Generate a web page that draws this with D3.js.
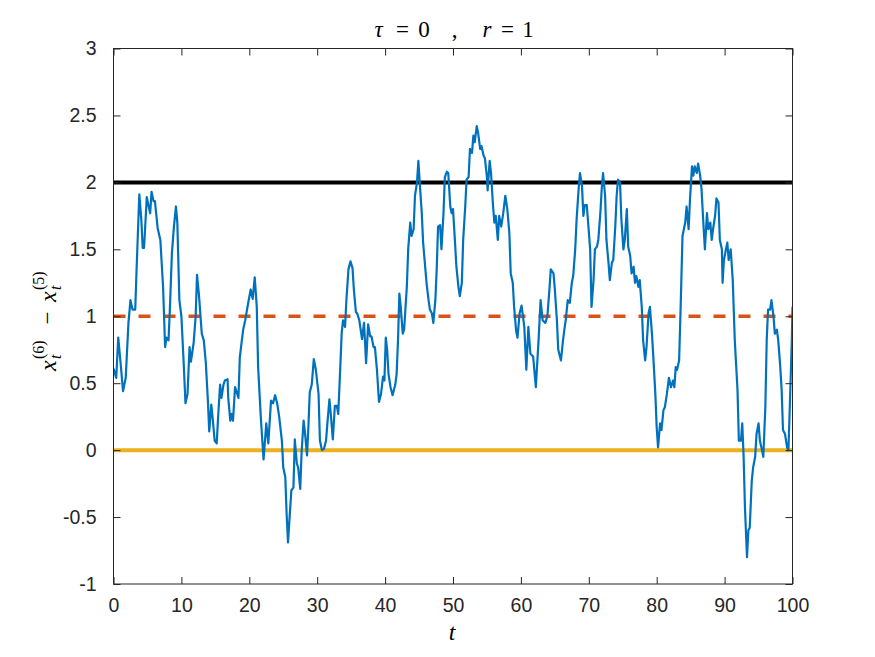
<!DOCTYPE html>
<html>
<head>
<meta charset="utf-8">
<script src="https://cdn.jsdelivr.net/npm/d3@7"></script>
<style>
  body { margin: 0; background: #fff; }
  svg { display: block; }
</style>
</head>
<body>
<svg id="chart" width="875" height="657"></svg>
<script>
// tiempos y diferencia x_t^(6) - x_t^(5)
const times = [0.0, 0.4, 0.7, 1.1, 1.4, 1.8, 2.2, 2.5, 2.8, 3.2, 3.4, 3.8, 4.1, 4.3, 4.5, 4.9, 5.1, 5.4, 5.6, 5.9, 6.1, 6.5, 6.9, 7.3, 7.6, 7.8, 8.1, 8.3, 8.6, 8.9, 9.2, 9.4, 9.7, 10.0, 10.3, 10.6, 10.9, 11.2, 11.4, 11.8, 12.1, 12.3, 12.6, 13.0, 13.3, 13.6, 13.9, 14.1, 14.4, 14.6, 14.9, 15.2, 15.4, 15.7, 15.9, 16.2, 16.4, 16.8, 16.9, 17.2, 17.4, 17.6, 17.9, 18.1, 18.4, 18.6, 18.9, 19.1, 19.4, 19.7,
  20.2, 20.5, 20.8, 21.1, 21.3, 21.7, 22.1, 22.5, 22.8, 23.2, 23.5, 23.8, 24.1, 24.4, 24.8, 25.0, 25.3, 25.5, 25.7, 26.0, 26.2, 26.5, 26.7, 27.0, 27.2, 27.5, 27.7, 28.0, 28.2, 28.5, 28.7, 28.9, 29.2, 29.5, 29.8, 30.2, 30.4, 30.7, 31.0, 31.3, 31.5, 31.8, 32.0, 32.3, 32.6, 32.9, 33.1, 33.4, 33.6, 33.8, 34.1, 34.3, 34.6, 34.9, 35.2, 35.4, 35.7, 35.9, 36.2, 36.6, 36.9, 37.2, 37.5, 37.8, 38.0, 38.3, 38.5, 38.8, 39.1, 39.4, 39.7, 39.9, 40.1, 40.3,
  40.5, 40.8, 41.1, 41.5, 41.7, 41.9, 42.1, 42.3, 42.6, 42.8, 43.2, 43.4, 43.7, 43.9, 44.2, 44.4, 44.7, 44.9, 45.1, 45.4, 45.6, 45.9, 46.1, 46.4, 46.6, 46.9, 47.1, 47.4, 47.6, 47.8, 48.1, 48.3, 48.6, 48.8, 49.1, 49.3, 49.6, 49.8, 50.0, 50.3, 50.5, 50.8, 51.0, 51.3, 51.5, 51.8, 52.0, 52.3, 52.5, 52.8, 53.0, 53.2, 53.5, 53.7, 54.0, 54.2, 54.5, 54.7, 55.0, 55.1, 55.4, 55.6, 55.9, 56.1, 56.3, 56.6, 56.8, 57.1, 57.4, 57.7, 58.0, 58.3, 58.5, 58.8, 59.0, 59.3, 59.5, 59.8,
  60.1, 60.5, 60.8, 61.1, 61.4, 61.8, 62.2, 62.6, 62.9, 63.2, 63.6, 63.9, 64.2, 64.4, 64.8, 65.0, 65.3, 65.5, 65.9, 66.2, 66.4, 66.6, 66.9, 67.2, 67.5, 67.7, 68.0, 68.2, 68.5, 68.7, 69.0, 69.2, 69.4, 69.7, 69.9, 70.2, 70.4, 70.7, 70.9, 71.2, 71.4, 71.7, 71.9, 72.1, 72.4, 72.6, 72.9, 73.1, 73.4, 73.6, 73.9, 74.1, 74.3, 74.6, 74.8, 75.1, 75.3, 75.6, 75.8, 76.1, 76.3, 76.6, 76.8, 77.0, 77.3, 77.5, 77.8, 78.0, 78.3, 78.5, 78.8, 79.0, 79.3, 79.5, 79.8,
  80.0, 80.2, 80.5, 80.7, 81.0, 81.2, 81.5, 81.8, 82.1, 82.4, 82.6, 82.8, 83.0, 83.3, 83.5, 83.8, 84.2, 84.4, 84.7, 84.9, 85.2, 85.4, 85.6, 85.9, 86.1, 86.4, 86.6, 86.9, 87.1, 87.4, 87.6, 87.9, 88.1, 88.3, 88.6, 88.8, 89.1, 89.3, 89.6, 89.7, 89.9, 90.2, 90.4, 90.6, 90.9, 91.2, 91.5, 91.9, 92.1, 92.4, 92.6, 92.8, 93.0, 93.3, 93.5, 93.7, 94.0, 94.2, 94.5, 94.7, 95.0, 95.2, 95.5, 95.7, 96.0, 96.2, 96.4, 96.7, 96.9, 97.2, 97.4, 97.7, 97.9, 98.2, 98.4, 98.6, 98.9, 99.2, 99.4, 99.6, 99.9, 100.0];
const diffs = [0.61, 0.54, 0.84, 0.62, 0.44, 0.54, 0.95, 1.12, 1.05, 1.05, 1.35, 1.91, 1.72, 1.51, 1.51, 1.89, 1.84, 1.77, 1.93, 1.86, 1.86, 1.66, 1.57, 1.22, 0.77, 0.84, 0.82, 1.05, 1.47, 1.67, 1.82, 1.70, 1.12, 1.00, 0.69, 0.35, 0.42, 0.77, 0.66, 0.80, 1.00, 1.31, 1.15, 0.87, 0.82, 0.65, 0.37, 0.14, 0.34, 0.24, 0.07, 0.05, 0.24, 0.49, 0.39, 0.49, 0.52, 0.53, 0.39, 0.22, 0.27, 0.22, 0.47, 0.44, 0.39, 0.69, 0.82, 0.90, 0.97, 1.06,
  1.20, 1.13, 1.29, 1.07, 0.62, 0.24, -0.07, 0.20, 0.05, 0.37, 0.35, 0.41, 0.35, 0.25, 0.07, -0.13, -0.20, -0.48, -0.69, -0.45, -0.30, -0.28, 0.08, -0.10, -0.13, -0.29, -0.02, 0.22, 0.13, -0.04, 0.17, 0.43, 0.49, 0.68, 0.60, 0.42, 0.07, 0.00, 0.01, 0.07, 0.20, 0.38, 0.27, 0.08, 0.33, 0.33, 0.27, 0.62, 0.87, 0.97, 0.92, 1.12, 1.35, 1.41, 1.36, 1.20, 1.03, 1.02, 0.97, 0.83, 0.95, 0.65, 0.94, 0.85, 0.85, 0.77, 0.77, 0.60, 0.36, 0.42, 0.55, 0.52, 0.84, 0.75,
  0.57, 0.47, 0.41, 0.49, 0.57, 0.82, 1.17, 1.07, 0.87, 0.90, 1.22, 1.50, 1.70, 1.60, 1.65, 1.90, 2.00, 2.16, 2.00, 1.77, 1.55, 1.37, 1.25, 1.12, 1.05, 1.02, 0.95, 1.12, 1.35, 1.67, 1.68, 1.50, 1.77, 2.04, 2.08, 2.07, 1.82, 1.77, 1.80, 1.55, 1.37, 1.22, 1.15, 1.25, 1.57, 1.82, 2.02, 2.04, 2.25, 2.22, 2.35, 2.30, 2.42, 2.37, 2.25, 2.27, 2.20, 2.18, 2.04, 1.94, 2.16, 2.07, 1.82, 1.70, 1.75, 1.57, 1.75, 1.67, 1.77, 1.90, 1.80, 1.62, 1.32, 1.25, 1.07, 0.89, 0.84, 1.02,
  1.08, 0.92, 0.60, 0.92, 0.72, 0.70, 0.47, 0.82, 1.12, 0.97, 0.95, 1.00, 1.20, 1.35, 1.32, 1.20, 0.97, 0.75, 0.67, 0.82, 0.90, 0.97, 1.12, 1.10, 1.25, 1.30, 1.50, 1.72, 1.95, 2.07, 1.97, 1.75, 1.83, 1.83, 1.70, 1.50, 1.07, 1.27, 1.50, 1.52, 1.57, 1.77, 1.95, 2.07, 1.90, 1.57, 1.40, 1.27, 1.40, 1.42, 1.67, 1.90, 2.02, 2.00, 1.72, 1.50, 1.57, 1.80, 1.52, 1.45, 1.32, 1.37, 1.25, 1.30, 1.22, 1.27, 1.07, 0.82, 0.67, 0.77, 1.02, 1.07, 0.87, 0.70, 0.42,
  0.17, 0.02, 0.20, 0.15, 0.30, 0.32, 0.42, 0.54, 0.47, 0.52, 0.47, 0.62, 0.60, 0.67, 1.02, 1.60, 1.70, 1.82, 1.65, 1.87, 2.12, 2.05, 2.12, 2.07, 2.14, 2.05, 1.95, 1.67, 1.50, 1.77, 1.65, 1.70, 1.57, 1.65, 1.75, 1.88, 1.85, 1.57, 1.50, 1.25, 1.42, 1.50, 1.55, 1.42, 1.50, 1.27, 0.82, 0.45, 0.07, 0.07, 0.20, -0.05, -0.43, -0.80, -0.60, -0.58, -0.23, -0.13, -0.05, 0.12, 0.20, 0.07, 0.00, -0.05, 0.32, 0.82, 1.05, 1.05, 1.12, 1.00, 0.87, 0.90, 0.82, 0.62, 0.45, 0.15, 0.12, 0.02, 0.00, 0.32, 0.82, 1.07];

// lineas horizontales de referencia
const refLevels = [2, 1, 0];
const refColors = ["#000000", "#D95319", "#EDB120"];
const refDashes = [null, "12,13", null];

// ticks
const xTicks = [0, 10, 20, 30, 40, 50, 60, 70, 80, 90, 100];
const yTicks = [-1, -0.5, 0, 0.5, 1, 1.5, 2, 2.5, 3];

const svg = d3.select("#chart");
const mLeft = 113.5, mRight = 792.5, mTop = 48.5, mBottom = 584;

const x = d3.scaleLinear().domain([0, 100]).range([mLeft, mRight]);
const y = d3.scaleLinear().domain([-1, 3]).range([mBottom, mTop]);

svg.append("defs").append("clipPath").attr("id", "clip")
   .append("rect")
   .attr("x", mLeft).attr("y", mTop)
   .attr("width", mRight - mLeft).attr("height", mBottom - mTop);

const plot = svg.append("g").attr("clip-path", "url(#clip)");

// lineas de referencia
refLevels.forEach((lv, i) => {
    plot.append("line")
        .attr("x1", x(0)).attr("x2", x(100))
        .attr("y1", y(lv)).attr("y2", y(lv))
        .attr("stroke", refColors[i])
        .attr("stroke-width", i === 1 ? 3.5 : 4)
        .attr("stroke-dasharray", refDashes[i]);
});

// serie
const data = times.map((t, i) => [t, diffs[i]]);
plot.append("path")
    .datum(data)
    .attr("fill", "none")
    .attr("stroke", "#0072BD")
    .attr("stroke-width", 2.2)
    .attr("stroke-linejoin", "round")
    .attr("d", d3.line().x(d => x(d[0])).y(d => y(d[1])));

// ejes estilo matlab
const tickFmt = d => d3.format("")(d).replace("\u2212", "-");
const axColor = "#262626";

const styleAxis = g => {
    g.select(".domain").remove();
    g.selectAll(".tick line").attr("stroke", axColor);
    g.selectAll(".tick text")
     .attr("fill", axColor)
     .style("font-family", "'Liberation Sans', Arial, sans-serif")
     .style("font-size", "19.5px");
};

svg.append("g")
   .attr("transform", `translate(0,${mBottom})`)
   .call(d3.axisBottom(x).tickValues(xTicks).tickSizeInner(-7).tickSizeOuter(0).tickPadding(14).tickFormat(tickFmt))
   .call(styleAxis);

svg.append("g")
   .attr("transform", `translate(0,${mTop})`)
   .call(d3.axisTop(x).tickValues(xTicks).tickSizeInner(-7).tickSizeOuter(0).tickFormat(""))
   .call(styleAxis);

svg.append("g")
   .attr("transform", `translate(${mLeft},0)`)
   .call(d3.axisLeft(y).tickValues(yTicks).tickSizeInner(-7).tickSizeOuter(0).tickPadding(17).tickFormat(tickFmt))
   .call(styleAxis);

svg.append("g")
   .attr("transform", `translate(${mRight},0)`)
   .call(d3.axisRight(y).tickValues(yTicks).tickSizeInner(-7).tickSizeOuter(0).tickFormat(""))
   .call(styleAxis);

// caja
svg.append("rect")
   .attr("x", mLeft).attr("y", mTop)
   .attr("width", mRight - mLeft).attr("height", mBottom - mTop)
   .attr("fill", "none")
   .attr("stroke", axColor)
   .attr("stroke-width", 1);

const serif = "'Liberation Serif', 'Times New Roman', serif";

// titulo: cada simbolo en su posicion
const titleParts = [
    { s: "τ", cx: 378.5, it: true },
    { s: "=", cx: 402.5, it: false },
    { s: "0", cx: 424, it: false },
    { s: ",", cx: 454.5, it: false },
    { s: "r", cx: 487, it: true },
    { s: "=", cx: 507.5, it: false },
    { s: "1", cx: 528, it: false }
];
svg.append("g")
   .selectAll("text")
   .data(titleParts)
   .join("text")
   .attr("x", d => d.cx).attr("y", 37)
   .attr("text-anchor", "middle")
   .style("font-family", serif)
   .style("font-size", "23px")
   .style("font-style", d => d.it ? "italic" : "normal")
   .attr("fill", "#000")
   .text(d => d.s);

// etiqueta eje x
svg.append("text")
   .attr("x", 452).attr("y", 640)
   .attr("text-anchor", "middle")
   .style("font-family", serif)
   .style("font-size", "24px")
   .style("font-style", "italic")
   .text("t");

// etiqueta eje y: x_t^(6) - x_t^(5)
const yl = svg.append("g")
   .attr("transform", "translate(56,316) rotate(-90)")
   .style("font-family", serif)
   .attr("fill", "#000");

const addTerm = (x0, sup) => {
    yl.append("text").attr("x", x0).attr("y", 0)
      .style("font-size", "24px").style("font-style", "italic").text("x");
    yl.append("text").attr("x", x0 + 12).attr("y", 5)
      .style("font-size", "16px").style("font-style", "italic").text("t");
    yl.append("text").attr("x", x0 + 12).attr("y", -12)
      .style("font-size", "16px").text(sup);
};
addTerm(-55, "(6)");
yl.append("text").attr("x", -2).attr("y", -1)
  .attr("text-anchor", "middle")
  .style("font-size", "23px").text("\u2212");
addTerm(14, "(5)");
</script>
</body>
</html>
